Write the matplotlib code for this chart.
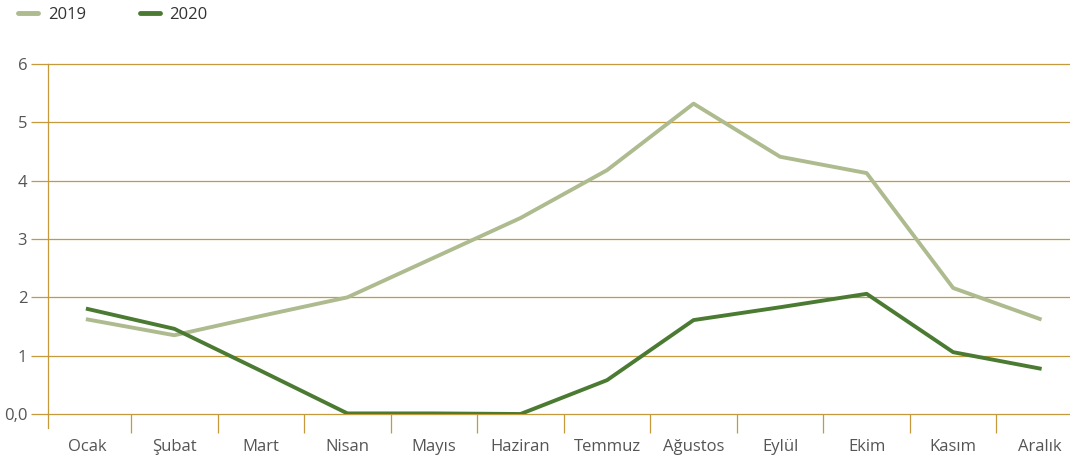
import numpy as np
import matplotlib.pyplot as plt
from matplotlib.lines import Line2D

plt.rcParams['font.family'] = ['Open Sans', 'DejaVu Sans']

months = ['Ocak', 'Şubat', 'Mart', 'Nisan', 'Mayıs', 'Haziran',
          'Temmuz', 'Ağustos', 'Eylül', 'Ekim', 'Kasım', 'Aralık']
values_2019 = [1.62, 1.35, 1.68, 2.0, 2.68, 3.36, 4.18, 5.32, 4.41, 4.13, 2.16, 1.63]
values_2020 = [1.80, 1.46, 0.74, 0.01, 0.01, 0.0, 0.58, 1.61, 1.83, 2.06, 1.06, 0.78]
y_ticks = [0, 1, 2, 3, 4, 5, 6]
y_labels = ['0,0', '1', '2', '3', '4', '5', '6']

gold = '#c49a3c'
text_color = '#555555'
c2019 = '#adbb8f'
c2020 = '#4b7b32'

fig = plt.figure(figsize=(10.7, 4.59), dpi=100)
ax = fig.add_axes([48 / 1070, 1 - 414 / 459, 1 - 48 / 1070, 350 / 459])

x = np.arange(len(months))
ax.plot(x, values_2019, color=c2019, lw=2.8, solid_joinstyle='round', zorder=3)
ax.plot(x, values_2020, color=c2020, lw=2.8, solid_joinstyle='round', zorder=4)

ax.set_xlim(-0.46, 11.35)
ax.set_ylim(0, 6)

# horizontal grid in gold
ax.set_yticks(y_ticks)
ax.set_yticklabels(y_labels)
for v in y_ticks:
    ax.axhline(v, color=gold, lw=0.9, zorder=1, clip_on=False)
ax.tick_params(axis='y', length=12, width=0.9, color=gold, pad=3,
               labelsize=12, labelcolor=text_color)

# month labels centred, boundary ticks between them
ax.set_xticks(x)
ax.set_xticklabels(months)
ax.tick_params(axis='x', which='major', length=0, pad=18,
               labelsize=12, labelcolor=text_color)
ax.set_xticks(x[1:] - 0.5, minor=True)
ax.tick_params(axis='x', which='minor', length=14, width=0.9, color=gold)

for s in ['top', 'right', 'bottom']:
    ax.spines[s].set_visible(False)
ax.spines['left'].set_color(gold)
ax.spines['left'].set_linewidth(0.9)
ax.spines['left'].set_bounds(-14 / 58.3, 6)
ax.spines['bottom'].set_position(('data', 0))

handles = [Line2D([], [], color=c2019, lw=3.5, solid_capstyle='round'),
           Line2D([], [], color=c2020, lw=3.5, solid_capstyle='round')]
fig.legend(handles, ['2019', '2020'], loc='upper left', bbox_to_anchor=(0.003, 1.018),
           ncol=2, frameon=False, fontsize=12, handlelength=1.2, handletextpad=0.6,
           columnspacing=3.2, labelcolor='#333333')

fig.savefig('out.png', dpi=100)
